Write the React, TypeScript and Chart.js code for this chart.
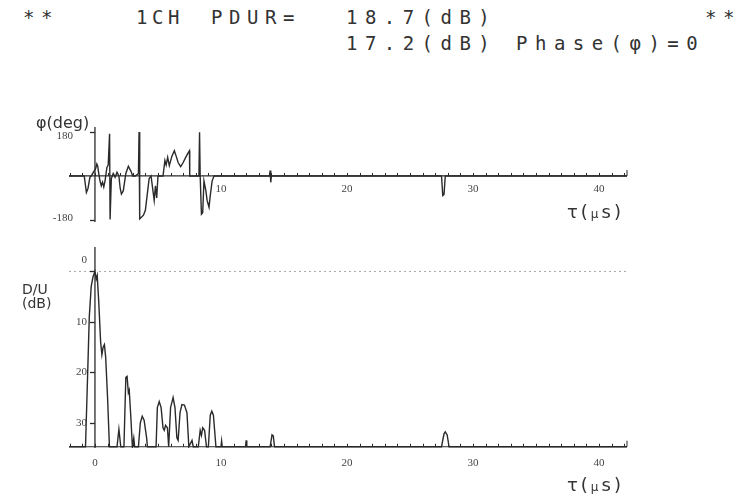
import React, { useEffect, useRef } from "react";
import { Chart, registerables } from "chart.js";

Chart.register(...registerables);

// ---------- data ----------
const TAU_MIN = -2.06;
const TAU_MAX = 42.22;
const upperTickLabels = [10, 20, 30, 40];
const lowerTickLabels = [0, 10, 20, 30, 40];
const phaseTickLabels = [180, -180];
const duTickLabels = [0, 10, 20, 30];
const AXIS_DB = 34.75;
const REF_DB = 0;

const phaseTau = [
  -2.06, -0.85, -0.75, -0.68, -0.55, -0.4, -0.3, 0.05, 0.15, 0.22, 0.3, 0.4, 0.5, 0.6, 0.7, 0.8, 0.95, 1.05,
  1.16, 1.2, 1.3, 1.45, 1.6, 1.75, 1.9, 2.0, 2.1, 2.25, 2.45, 2.65, 2.85, 3.0, 3.2, 3.45, 3.5, 3.55, 3.7,
  3.85, 4.0, 4.15, 4.3, 4.45, 4.6, 4.7, 4.8, 4.9, 5.0, 5.4, 5.55, 5.65, 5.77, 5.9, 6.1, 6.3, 6.45, 6.6, 6.8,
  7.0, 7.2, 7.35, 7.5, 7.52, 8.25, 8.3, 8.35, 8.45, 8.55, 8.65, 8.8, 8.9, 9.05, 9.15, 9.3, 9.45, 13.85,
  13.9, 13.95, 14.0, 27.5, 27.6, 27.7, 27.8, 42.22,
];
const phaseDeg = [
  0, 0, -40, -67, -50, -5, 0, 30, 49, 40, 10, -20, -40, -25, -45, -20, 35, 45,
  172, -178, -10, 10, -5, 15, 0, -50, -74, -60, 10, 40, 20, 0, 0, 10, 180, -175, -168,
  -160, -140, -75, -10, 0, -60, -100, -40, -90, 0, 0, 63, 45, 76, 42, 80, 103, 80, 55, 38,
  55, 76, 90, 103, 0, 0, 179, 0, -156, -150, -20, -60, -100, -128, -80, -20, 0, 0,
  22, -26, 0, 0, -80, -75, 0, 0,
];

const duTau = [
  -2.06, -0.75, -0.6, -0.45, -0.3, -0.15, 0, 0.1, 0.18, 0.3, 0.45, 0.55, 0.65, 0.75, 0.85, 1.0, 1.15,
  1.75, 1.9, 2.05, 2.3, 2.45, 2.55, 2.65, 2.72, 2.85, 2.97, 3.08, 3.15, 3.45, 3.6, 3.75, 3.9, 4.1, 4.16,
  4.85, 4.95, 5.1, 5.25, 5.4, 5.5, 5.6, 5.75, 5.85, 6.0, 6.1, 6.2, 6.35, 6.5, 6.6, 6.75, 6.9, 7.1, 7.3,
  7.45, 7.7, 7.8, 8.2, 8.35, 8.45, 8.55, 8.7, 8.85, 9.0, 9.15, 9.27, 9.4, 9.6, 10.0, 10.05, 10.1, 11.95,
  12.0, 12.05, 13.9, 14.05, 14.15, 14.25, 27.5, 27.7, 27.8, 27.95, 28.1, 42.22,
];
const duDb = [
  34.75, 34.75, 22, 9, 3, 1, 0, 1.5, 0.8, 6, 14, 16.5, 15, 14.5, 17, 25, 34.75,
  34.75, 31.3, 34.75, 34.75, 21, 20.8, 24, 23.5, 29, 34.75, 33, 34.75, 34.75, 30, 28.7, 29.5, 33, 34.75,
  34.75, 27, 25.8, 27, 31, 31.5, 30.5, 31, 34.75, 27, 26, 25, 27, 33, 33.5, 28, 26.4, 26.5, 28,
  34.75, 33.5, 34.75, 34.75, 31.5, 32.5, 31, 31.5, 34.75, 34.75, 28.5, 27.7, 28.5, 34.75, 34.75, 33.6, 34.75, 34.75,
  33.5, 34.75, 34.75, 32.4, 32.6, 34.75, 34.75, 32.2, 31.8, 32.4, 34.75, 34.75,
];

// ---------- styles ----------
const INK = "#2a2a2a";
const TEXT = "#333";
const TICK_FONT = "11px 'Liberation Serif', serif";

type AxisCfg = {
  axisValue: number;
  xLabels: number[];
  yLabels: number[];
  yLabelOffset: (v: number) => number;
  yLabelGap: number;
  xLabelGap: number;
};

function axesPlugin(cfg: AxisCfg) {
  return {
    id: "customAxes",
    afterDatasetsDraw(chart: any) {
      const ctx = chart.ctx as CanvasRenderingContext2D;
      const xs = chart.scales.x;
      const ys = chart.scales.y;
      const area = chart.chartArea;
      const yAxis = ys.getPixelForValue(cfg.axisValue);
      const x0 = xs.getPixelForValue(0);
      ctx.save();
      ctx.strokeStyle = INK;
      ctx.lineWidth = 1.2;
      ctx.beginPath();
      ctx.moveTo(area.left, yAxis);
      ctx.lineTo(area.right, yAxis);
      ctx.stroke();
      ctx.lineWidth = 1;
      for (let t = Math.ceil(TAU_MIN); t <= Math.floor(TAU_MAX); t++) {
        const px = Math.round(xs.getPixelForValue(t)) + 0.5;
        ctx.beginPath();
        ctx.moveTo(px, yAxis);
        ctx.lineTo(px, yAxis - 3);
        ctx.stroke();
      }
      ctx.beginPath();
      ctx.moveTo(area.right, yAxis);
      ctx.lineTo(area.right, yAxis - 6);
      ctx.stroke();
      ctx.lineWidth = 1.3;
      ctx.beginPath();
      ctx.moveTo(x0, area.top);
      ctx.lineTo(x0, area.bottom);
      ctx.stroke();
      ctx.fillStyle = "#444";
      ctx.font = TICK_FONT;
      ctx.textAlign = "center";
      ctx.textBaseline = "middle";
      for (const v of cfg.xLabels) {
        ctx.fillText(String(v), xs.getPixelForValue(v), yAxis + cfg.xLabelGap);
      }
      ctx.textAlign = "right";
      for (const v of cfg.yLabels) {
        const py = ys.getPixelForValue(v);
        ctx.fillText(String(v), x0 - cfg.yLabelGap, py + cfg.yLabelOffset(v));
        ctx.beginPath();
        ctx.moveTo(x0 - 5, Math.round(py) + 0.5);
        ctx.lineTo(x0, Math.round(py) + 0.5);
        ctx.stroke();
      }
      ctx.restore();
    },
  };
}

function PhaseChart() {
  const ref = useRef<HTMLCanvasElement>(null);
  useEffect(() => {
    const pts = phaseTau.map((t, i) => ({ x: t, y: phaseDeg[i] }));
    const chart = new Chart(ref.current!, {
      type: "line",
      data: {
        datasets: [
          { data: pts, borderColor: INK, borderWidth: 1.4, pointRadius: 0, tension: 0 },
        ],
      },
      options: {
        animation: false,
        responsive: false,
        events: [],
        layout: { padding: { left: 69, right: 110, top: 127, bottom: 275 } },
        plugins: { legend: { display: false }, tooltip: { enabled: false } },
        scales: {
          x: { type: "linear", min: TAU_MIN, max: TAU_MAX, display: false },
          y: { type: "linear", min: -188, max: 200, display: false },
        },
      },
      plugins: [
        axesPlugin({
          axisValue: 0,
          xLabels: upperTickLabels,
          yLabels: phaseTickLabels,
          yLabelOffset: (v) => (v > 0 ? 4 : -2),
          yLabelGap: 22,
          xLabelGap: 13,
        }),
      ],
    });
    return () => chart.destroy();
  }, []);
  return (
    <canvas
      ref={ref}
      width={737}
      height={497}
      style={{ position: "absolute", left: 0, top: 0, width: 737, height: 497 }}
    />
  );
}

function DuChart() {
  const ref = useRef<HTMLCanvasElement>(null);
  useEffect(() => {
    const pts = duTau.map((t, i) => ({ x: t, y: duDb[i] }));
    const chart = new Chart(ref.current!, {
      type: "line",
      data: {
        datasets: [
          {
            data: [
              { x: TAU_MIN, y: REF_DB },
              { x: TAU_MAX, y: REF_DB },
            ],
            borderColor: "#a8a8a8",
            borderWidth: 1,
            borderDash: [2, 3],
            pointRadius: 0,
          },
          { data: pts, borderColor: INK, borderWidth: 1.4, pointRadius: 0, tension: 0 },
        ],
      },
      options: {
        animation: false,
        responsive: false,
        events: [],
        layout: { padding: { left: 69, right: 110, top: 247, bottom: 49 } },
        plugins: { legend: { display: false }, tooltip: { enabled: false } },
        scales: {
          x: { type: "linear", min: TAU_MIN, max: TAU_MAX, display: false },
          y: { type: "linear", min: -4.85, max: 35, reverse: true, display: false },
        },
      },
      plugins: [
        axesPlugin({
          axisValue: AXIS_DB,
          xLabels: lowerTickLabels,
          yLabels: duTickLabels,
          yLabelOffset: (v) => (v === 0 ? -11 : 0),
          yLabelGap: 8,
          xLabelGap: 16,
        }),
      ],
    });
    return () => chart.destroy();
  }, []);
  return (
    <canvas
      ref={ref}
      width={737}
      height={497}
      style={{ position: "absolute", left: 0, top: 0, width: 737, height: 497 }}
    />
  );
}

const monoBase: React.CSSProperties = {
  position: "absolute",
  whiteSpace: "pre",
  fontFamily: "'DejaVu Sans Mono', monospace",
  fontSize: 19,
  color: TEXT,
  lineHeight: "20px",
};

function Word(props: { text: string; left: number; top: number; pitch: number }) {
  return (
    <div
      style={{
        ...monoBase,
        left: props.left,
        top: props.top,
        letterSpacing: `${(props.pitch - 11.44).toFixed(2)}px`,
      }}
    >
      {props.text}
    </div>
  );
}

const labelStyle: React.CSSProperties = {
  position: "absolute",
  fontFamily: "'DejaVu Sans', sans-serif",
  color: TEXT,
  whiteSpace: "pre",
};

function TauLabel(props: { top: number }) {
  return (
    <div style={{ ...labelStyle, left: 567, top: props.top, fontSize: 18, letterSpacing: "3px" }}>
      τ(<span style={{ fontSize: 12 }}>μ</span>s)
    </div>
  );
}

export default function App() {
  return (
    <div
      style={{
        position: "fixed",
        left: 0,
        top: 0,
        width: 737,
        height: 497,
        background: "#fff",
        overflow: "hidden",
      }}
    >
      <Word text="**" left={23} top={7} pitch={18} />
      <Word text="1CH" left={136} top={7} pitch={16} />
      <Word text="PDUR=" left={211} top={7} pitch={18} />
      <Word text="18.7(dB)" left={346} top={7} pitch={18.9} />
      <Word text="**" left={705} top={7} pitch={18} />
      <Word text="17.2(dB) Phase(φ)=0" left={346} top={33} pitch={18.9} />
      <PhaseChart />
      <DuChart />
      <div style={{ ...labelStyle, left: 36, top: 113, fontSize: 16 }}>φ(deg)</div>
      <div style={{ ...labelStyle, left: 22, top: 282, fontSize: 14, lineHeight: "14px" }}>
        {"D/U\n(dB)"}
      </div>
      <TauLabel top={201} />
      <TauLabel top={474} />
    </div>
  );
}
